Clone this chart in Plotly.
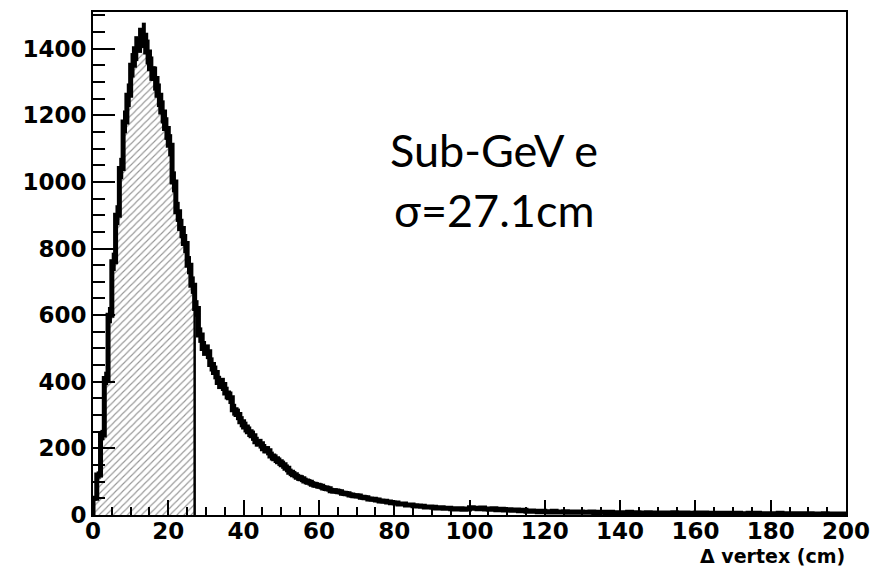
import numpy as np
import plotly.graph_objects as go

# ---- data (histogram of Δ vertex, 1 cm bins from 0 to 200 cm) ----
bin_start = 0
bin_width = 1
counts = [
    # 0-9
    50, 120, 240, 410, 600, 760, 900, 1040, 1180, 1260,
    # 10-19
    1350, 1400, 1425, 1440, 1390, 1340, 1310, 1260, 1210, 1160,
    # 20-29
    1110, 1000, 910, 860, 815, 750, 690, 620, 540, 500,
    # 30-39
    490, 452, 428, 398, 392, 366, 352, 316, 302, 280,
    # 40-49
    264, 250, 238, 220, 214, 199, 193, 177, 169, 160,
    # 50-59
    151, 140, 128, 121, 113, 109, 102, 98, 92, 89,
    # 60-69
    86, 81, 79, 73, 72, 70, 65, 64, 60, 58,
    # 70-79
    57, 53, 52, 48, 47, 45, 42, 41, 39, 37,
    # 80-89
    36, 33, 33, 30, 30, 28, 27, 26, 24, 24,
    # 90-99
    23, 21, 22, 20, 20, 19, 18, 19, 17, 18,
    # 100-109
    22, 20, 19, 21, 18, 17, 19, 16, 17, 15,
    # 110-119
    16, 14, 15, 13, 14, 11, 12, 11, 10, 11,
    # 120-129
    10, 9, 11, 9, 9, 10, 8, 9, 8, 9,
    # 130-139
    8, 8, 9, 7, 8, 8, 7, 8, 7, 7,
    # 140-149
    7, 6, 8, 6, 7, 6, 6, 7, 5, 6,
    # 150-159
    6, 5, 6, 5, 7, 5, 6, 6, 5, 5,
    # 160-169
    6, 5, 6, 4, 5, 5, 5, 4, 5, 5,
    # 170-179
    4, 5, 4, 4, 5, 4, 5, 4, 4, 4,
    # 180-189
    4, 4, 5, 3, 4, 4, 3, 4, 4, 3,
    # 190-199
    4, 3, 3, 3, 4, 3, 3, 3, 3, 3,
]
sigma_bins = 27          # hatched region: first 27 bins (0 - 27.1 cm)
annot_lines = ["Sub-GeV e", "σ=27.1cm"]
x_title = "Δ vertex (cm)"
x_tickvals = list(range(0, 201, 20))
y_tickvals = list(range(0, 1401, 200))

# ---- derived geometry from the data ----
counts_arr = np.array(counts, dtype=float)
edges = bin_start + bin_width * np.arange(len(counts) + 1)
centers = edges[:-1] + bin_width / 2.0

step_x = np.concatenate([[edges[0]], edges])
step_y = np.concatenate([[0.0], counts_arr, [counts_arr[-1]]])

fill_x = np.concatenate([edges[: sigma_bins + 1], [edges[sigma_bins]]])
fill_y = np.concatenate([counts_arr[:sigma_bins], [counts_arr[sigma_bins - 1]], [0.0]])

fig = go.Figure()

# hatched area under the curve up to sigma
fig.add_trace(go.Scatter(
    x=fill_x, y=fill_y, mode="lines", line_shape="hv",
    line=dict(color="black", width=2.5),
    fill="tozeroy", fillcolor="rgba(0,0,0,0)",
    fillpattern=dict(shape="/", fgcolor="#2e2e2e", bgcolor="white",
                     size=5, solidity=0.22),
    hoverinfo="skip",
))

# statistical error bars
fig.add_trace(go.Scatter(
    x=centers, y=counts_arr, mode="markers",
    marker=dict(size=1, color="black"),
    error_y=dict(type="data", array=np.sqrt(counts_arr), thickness=4,
                 width=0, color="black"),
    hoverinfo="skip",
))

# histogram outline
fig.add_trace(go.Scatter(
    x=step_x, y=step_y, mode="lines", line_shape="hv",
    line=dict(color="black", width=5),
    hoverinfo="skip",
))

tickfont = dict(family="DejaVu Sans", size=23, color="black", weight="bold")

fig.update_layout(
    width=880, height=568,
    margin=dict(l=93, r=30, t=10, b=53),
    paper_bgcolor="white", plot_bgcolor="white",
    showlegend=False,
    xaxis=dict(
        range=[0, 200], showgrid=False, zeroline=False,
        showline=True, linecolor="black", linewidth=2, mirror=True,
        ticks="inside", ticklen=15, tickwidth=1.5, tickcolor="black",
        tickvals=x_tickvals, ticktext=[str(v) for v in x_tickvals],
        tickfont=tickfont, ticklabelstandoff=-6,
        minor=dict(dtick=5, ticks="inside", ticklen=8, tickwidth=1.5,
                   tickcolor="black", showgrid=False),
    ),
    yaxis=dict(
        range=[0, 1510], showgrid=False, zeroline=False,
        showline=True, linecolor="black", linewidth=2, mirror=True,
        ticks="inside", ticklen=22, tickwidth=1.5, tickcolor="black",
        tickvals=y_tickvals, ticktext=[str(v) for v in y_tickvals],
        tickfont=tickfont,
        minor=dict(dtick=50, ticks="inside", ticklen=12, tickwidth=1.5,
                   tickcolor="black", showgrid=False),
    ),
)

# x-axis title, right aligned below the tick labels
fig.add_annotation(
    text=x_title, xref="paper", yref="paper", x=1, y=0,
    xanchor="right", yanchor="bottom", yshift=-53, showarrow=False,
    borderpad=0,
    font=dict(family="DejaVu Sans", size=19, color="black", weight="bold"),
)

# in-plot text
for i, line in enumerate(annot_lines):
    fig.add_annotation(
        text=line, xref="paper", yref="paper", x=0.533,
        y=[0.725, 0.606][i], xanchor="center", yanchor="middle",
        showarrow=False,
        font=dict(family="Lato", size=45, color="black"),
    )

fig.write_html("out.html")
